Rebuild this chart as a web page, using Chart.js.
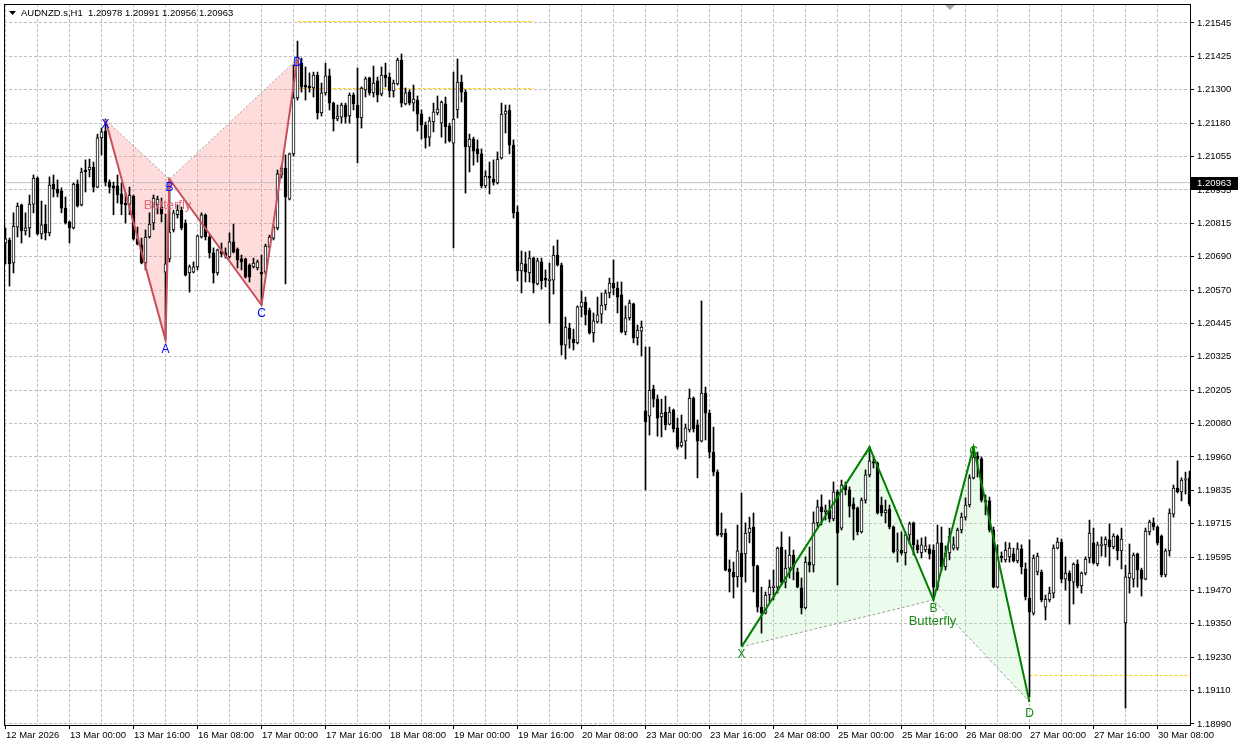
<!DOCTYPE html>
<html>
<head>
<meta charset="utf-8">
<script src="https://cdn.jsdelivr.net/npm/chart.js@4.4.1/dist/chart.umd.min.js"></script>
<style>
  html, body { margin: 0; padding: 0; background: #ffffff; }
  canvas { display: block; }
</style>
</head>
<body>
<canvas id="grafico" width="1238" height="749"></canvas>
<script>
// cabeçalho e cotação atual
var simbolo = 'AUDNZD.s,H1';
var cotacaoAtual = [1.20978, 1.20991, 1.20956, 1.20963];

// velas H1 (abertura, máxima, mínima, fechamento)
var abertura = [1.20743, 1.20754, 1.20670, 1.20801, 1.20882, 1.20787, 1.20798, 1.20885, 1.20980, 1.20776,
  1.20812, 1.20780, 1.20958, 1.20940, 1.20933, 1.20870, 1.20820, 1.20798, 1.20958, 1.20882,
  1.21009, 1.21009, 1.21020, 1.20947, 1.21126, 1.21151, 1.20965, 1.20951, 1.20951, 1.20922,
  1.20889, 1.20885, 1.20914, 1.20758, 1.20736, 1.20670, 1.20765, 1.20816, 1.20882, 1.20874,
  1.20637, 1.20685, 1.20791, 1.20846, 1.20863, 1.20816, 1.20634, 1.20637, 1.20656, 1.20765,
  1.20846, 1.20765, 1.20707, 1.20634, 1.20714, 1.20707, 1.20692, 1.20747, 1.20721, 1.20685,
  1.20685, 1.20663, 1.20656, 1.20652, 1.20637, 1.20637, 1.20728, 1.20761, 1.20798, 1.20991,
  1.21016, 1.20903, 1.21068, 1.21272, 1.21399, 1.21319, 1.21315, 1.21308, 1.21355, 1.21217,
  1.21290, 1.21352, 1.21253, 1.21195, 1.21202, 1.21246, 1.21206, 1.21282, 1.21246, 1.21199,
  1.21301, 1.21345, 1.21290, 1.21334, 1.21286, 1.21355, 1.21348, 1.21297, 1.21323, 1.21410,
  1.21250, 1.21293, 1.21253, 1.21264, 1.21213, 1.21173, 1.21129, 1.21184, 1.21217, 1.21180,
  1.21250, 1.21170, 1.21107, 1.21228, 1.21330, 1.21293, 1.21093, 1.21122, 1.21086, 1.21068,
  1.20951, 1.20987, 1.20976, 1.20962, 1.21053, 1.21213, 1.21228, 1.21100, 1.20856, 1.20641,
  1.20667, 1.20634, 1.20688, 1.20594, 1.20674, 1.20615, 1.20605, 1.20608, 1.20699, 1.20663,
  1.20371, 1.20433, 1.20393, 1.20379, 1.20510, 1.20528, 1.20499, 1.20415, 1.20455, 1.20484,
  1.20517, 1.20561, 1.20597, 1.20579, 1.20554, 1.20419, 1.20470, 1.20521, 1.20397, 1.20422,
  1.20131, 1.20112, 1.20211, 1.20174, 1.20109, 1.20127, 1.20083, 1.20134, 1.20069, 1.20003,
  1.20021, 1.20062, 1.20178, 1.20080, 1.20021, 1.20196, 1.20123, 1.19981, 1.19908, 1.19679,
  1.19686, 1.19555, 1.19544, 1.19526, 1.19613, 1.19610, 1.19686, 1.19708, 1.19566, 1.19416,
  1.19394, 1.19460, 1.19486, 1.19489, 1.19635, 1.19507, 1.19558, 1.19606, 1.19544, 1.19486,
  1.19413, 1.19580, 1.19569, 1.19723, 1.19781, 1.19763, 1.19770, 1.19737, 1.19836, 1.19704,
  1.19861, 1.19843, 1.19792, 1.19777, 1.19690, 1.19806, 1.19898, 1.19945, 1.19941, 1.19788,
  1.19759, 1.19773, 1.19708, 1.19621, 1.19624, 1.19613, 1.19679, 1.19723, 1.19643, 1.19613,
  1.19624, 1.19628, 1.19624, 1.19489, 1.19650, 1.19562, 1.19613, 1.19631, 1.19631, 1.19697,
  1.19744, 1.19788, 1.19887, 1.19967, 1.19956, 1.19806, 1.19803, 1.19697, 1.19489, 1.19602,
  1.19588, 1.19599, 1.19610, 1.19584, 1.19628, 1.19555, 1.19449, 1.19394, 1.19544, 1.19544,
  1.19416, 1.19442, 1.19467, 1.19631, 1.19653, 1.19518, 1.19540, 1.19507, 1.19573, 1.19493,
  1.19540, 1.19595, 1.19650, 1.19573, 1.19639, 1.19643, 1.19661, 1.19635, 1.19675, 1.19621,
  1.19358, 1.19522, 1.19518, 1.19610, 1.19551, 1.19518, 1.19690, 1.19723, 1.19708, 1.19675,
  1.19533, 1.19621, 1.19755, 1.19850, 1.19836, 1.19879, 1.19887];

var maxima = [1.20798, 1.20761, 1.20853, 1.20889, 1.20885, 1.20853, 1.20918, 1.20991, 1.20984, 1.20896,
  1.20882, 1.20984, 1.20991, 1.20973, 1.20944, 1.20911, 1.20823, 1.20962, 1.20973, 1.21016,
  1.21046, 1.21049, 1.21038, 1.21140, 1.21162, 1.21195, 1.20973, 1.20965, 1.20991, 1.20962,
  1.20925, 1.20947, 1.20918, 1.20801, 1.20761, 1.20791, 1.20853, 1.20918, 1.20914, 1.20907,
  1.20849, 1.20976, 1.20863, 1.20882, 1.20874, 1.20827, 1.20663, 1.20674, 1.20772, 1.20853,
  1.20849, 1.20772, 1.20725, 1.20721, 1.20743, 1.20725, 1.20780, 1.20812, 1.20725, 1.20699,
  1.20688, 1.20667, 1.20688, 1.20681, 1.20699, 1.20739, 1.20772, 1.20809, 1.21009, 1.21024,
  1.21064, 1.21071, 1.21392, 1.21479, 1.21417, 1.21385, 1.21363, 1.21366, 1.21366, 1.21326,
  1.21399, 1.21377, 1.21257, 1.21246, 1.21253, 1.21253, 1.21290, 1.21290, 1.21381, 1.21312,
  1.21348, 1.21348, 1.21388, 1.21348, 1.21385, 1.21399, 1.21363, 1.21337, 1.21417, 1.21432,
  1.21308, 1.21301, 1.21319, 1.21279, 1.21228, 1.21184, 1.21202, 1.21253, 1.21279, 1.21261,
  1.21275, 1.21180, 1.21366, 1.21414, 1.21355, 1.21301, 1.21140, 1.21129, 1.21119, 1.21086,
  1.21006, 1.21038, 1.21046, 1.21075, 1.21253, 1.21246, 1.21246, 1.21119, 1.20878, 1.20714,
  1.20710, 1.20714, 1.20692, 1.20688, 1.20688, 1.20645, 1.20670, 1.20732, 1.20754, 1.20670,
  1.20473, 1.20451, 1.20429, 1.20514, 1.20568, 1.20546, 1.20506, 1.20488, 1.20546, 1.20561,
  1.20572, 1.20615, 1.20681, 1.20601, 1.20601, 1.20514, 1.20535, 1.20524, 1.20444, 1.20459,
  1.20364, 1.20364, 1.20225, 1.20189, 1.20174, 1.20185, 1.20145, 1.20138, 1.20105, 1.20116,
  1.20083, 1.20211, 1.20182, 1.20098, 1.20532, 1.20218, 1.20134, 1.20072, 1.19916, 1.19759,
  1.19701, 1.19588, 1.19580, 1.19715, 1.19832, 1.19723, 1.19744, 1.19759, 1.19569, 1.19489,
  1.19471, 1.19515, 1.19551, 1.19635, 1.19690, 1.19624, 1.19672, 1.19624, 1.19558, 1.19522,
  1.19599, 1.19635, 1.19763, 1.19806, 1.19825, 1.19788, 1.19806, 1.19872, 1.19843, 1.19879,
  1.19872, 1.19854, 1.19814, 1.19781, 1.19814, 1.19916, 1.20000, 1.19963, 1.19945, 1.19817,
  1.19806, 1.19788, 1.19712, 1.19686, 1.19690, 1.19690, 1.19726, 1.19726, 1.19661, 1.19668,
  1.19672, 1.19643, 1.19643, 1.19715, 1.19708, 1.19639, 1.19704, 1.19672, 1.19704, 1.19759,
  1.19814, 1.19898, 1.20000, 1.19981, 1.19963, 1.19825, 1.19817, 1.19708, 1.19643, 1.19617,
  1.19653, 1.19650, 1.19631, 1.19650, 1.19643, 1.19577, 1.19661, 1.19606, 1.19613, 1.19551,
  1.19460, 1.19489, 1.19643, 1.19668, 1.19664, 1.19599, 1.19548, 1.19577, 1.19588, 1.19544,
  1.19599, 1.19733, 1.19704, 1.19653, 1.19672, 1.19672, 1.19719, 1.19683, 1.19679, 1.19704,
  1.19569, 1.19646, 1.19613, 1.19613, 1.19558, 1.19704, 1.19733, 1.19741, 1.19712, 1.19679,
  1.19628, 1.19774, 1.19861, 1.19949, 1.19887, 1.19908, 1.19912];

var minima = [1.20667, 1.20586, 1.20634, 1.20765, 1.20743, 1.20772, 1.20765, 1.20853, 1.20772, 1.20758,
  1.20754, 1.20769, 1.20911, 1.20911, 1.20853, 1.20812, 1.20743, 1.20794, 1.20874, 1.20878,
  1.20929, 1.20984, 1.20929, 1.20944, 1.21064, 1.20951, 1.20925, 1.20846, 1.20889, 1.20846,
  1.20816, 1.20846, 1.20754, 1.20736, 1.20667, 1.20645, 1.20761, 1.20791, 1.20849, 1.20820,
  1.20390, 1.20674, 1.20783, 1.20834, 1.20791, 1.20623, 1.20564, 1.20634, 1.20645, 1.20761,
  1.20754, 1.20688, 1.20597, 1.20626, 1.20692, 1.20688, 1.20688, 1.20707, 1.20652, 1.20645,
  1.20615, 1.20601, 1.20652, 1.20645, 1.20517, 1.20630, 1.20725, 1.20754, 1.20791, 1.20980,
  1.20594, 1.20900, 1.21060, 1.21264, 1.21293, 1.21264, 1.21293, 1.21275, 1.21195, 1.21206,
  1.21282, 1.21228, 1.21151, 1.21188, 1.21180, 1.21180, 1.21180, 1.21228, 1.21035, 1.21162,
  1.21275, 1.21282, 1.21275, 1.21257, 1.21279, 1.21312, 1.21275, 1.21275, 1.21319, 1.21239,
  1.21246, 1.21246, 1.21224, 1.21151, 1.21122, 1.21089, 1.21096, 1.21148, 1.21210, 1.21129,
  1.21107, 1.21111, 1.20725, 1.21199, 1.21257, 1.20925, 1.21002, 1.21027, 1.21038, 1.20944,
  1.20944, 1.20922, 1.20954, 1.20958, 1.21049, 1.21144, 1.21068, 1.20834, 1.20605, 1.20561,
  1.20601, 1.20601, 1.20561, 1.20590, 1.20575, 1.20583, 1.20451, 1.20557, 1.20659, 1.20335,
  1.20320, 1.20360, 1.20353, 1.20375, 1.20473, 1.20444, 1.20411, 1.20382, 1.20451, 1.20451,
  1.20499, 1.20543, 1.20554, 1.20488, 1.20415, 1.20408, 1.20462, 1.20379, 1.20371, 1.20331,
  1.19843, 1.20043, 1.20145, 1.20039, 1.20036, 1.20062, 1.20080, 1.20054, 1.19992, 1.19999,
  1.19956, 1.20054, 1.20054, 1.19887, 1.20018, 1.20025, 1.19959, 1.19894, 1.19675, 1.19672,
  1.19548, 1.19471, 1.19449, 1.19489, 1.19274, 1.19507, 1.19650, 1.19471, 1.19398, 1.19321,
  1.19391, 1.19435, 1.19442, 1.19467, 1.19497, 1.19486, 1.19522, 1.19515, 1.19486, 1.19391,
  1.19409, 1.19544, 1.19544, 1.19708, 1.19715, 1.19733, 1.19726, 1.19730, 1.19497, 1.19697,
  1.19825, 1.19744, 1.19661, 1.19679, 1.19686, 1.19795, 1.19890, 1.19923, 1.19755, 1.19748,
  1.19723, 1.19701, 1.19613, 1.19580, 1.19606, 1.19569, 1.19646, 1.19606, 1.19613, 1.19595,
  1.19617, 1.19591, 1.19442, 1.19478, 1.19551, 1.19551, 1.19588, 1.19624, 1.19624, 1.19686,
  1.19733, 1.19781, 1.19883, 1.19890, 1.19799, 1.19752, 1.19690, 1.19486, 1.19486, 1.19580,
  1.19580, 1.19580, 1.19580, 1.19577, 1.19537, 1.19442, 1.19088, 1.19387, 1.19533, 1.19435,
  1.19369, 1.19435, 1.19449, 1.19628, 1.19504, 1.19478, 1.19354, 1.19427, 1.19486, 1.19467,
  1.19533, 1.19577, 1.19573, 1.19566, 1.19602, 1.19599, 1.19566, 1.19628, 1.19588, 1.19555,
  1.19048, 1.19467, 1.19489, 1.19489, 1.19456, 1.19515, 1.19679, 1.19697, 1.19643, 1.19526,
  1.19526, 1.19602, 1.19744, 1.19832, 1.19803, 1.19828, 1.19785];

var fechamento = [1.20758, 1.20667, 1.20805, 1.20878, 1.20787, 1.20798, 1.20885, 1.20980, 1.20776, 1.20809,
  1.20780, 1.20954, 1.20940, 1.20925, 1.20870, 1.20816, 1.20798, 1.20958, 1.20878, 1.21002,
  1.21002, 1.21020, 1.20947, 1.21126, 1.21148, 1.20965, 1.20947, 1.20944, 1.20918, 1.20885,
  1.20882, 1.20918, 1.20758, 1.20739, 1.20670, 1.20765, 1.20812, 1.20907, 1.20903, 1.20849,
  1.20667, 1.20783, 1.20853, 1.20863, 1.20798, 1.20626, 1.20656, 1.20656, 1.20769, 1.20846,
  1.20765, 1.20707, 1.20634, 1.20718, 1.20703, 1.20696, 1.20747, 1.20710, 1.20681, 1.20674,
  1.20619, 1.20619, 1.20670, 1.20674, 1.20630, 1.20732, 1.20765, 1.20801, 1.20995, 1.21016,
  1.20911, 1.21068, 1.21272, 1.21421, 1.21311, 1.21311, 1.21308, 1.21355, 1.21217, 1.21290,
  1.21352, 1.21253, 1.21195, 1.21206, 1.21246, 1.21202, 1.21282, 1.21250, 1.21199, 1.21308,
  1.21341, 1.21290, 1.21326, 1.21282, 1.21355, 1.21345, 1.21297, 1.21326, 1.21410, 1.21253,
  1.21290, 1.21253, 1.21268, 1.21213, 1.21173, 1.21126, 1.21188, 1.21221, 1.21231, 1.21257,
  1.21166, 1.21115, 1.21195, 1.21330, 1.21293, 1.21093, 1.21122, 1.21078, 1.21068, 1.20951,
  1.20987, 1.20980, 1.20965, 1.21049, 1.21213, 1.21224, 1.21100, 1.20853, 1.20641, 1.20670,
  1.20637, 1.20688, 1.20597, 1.20678, 1.20605, 1.20608, 1.20612, 1.20699, 1.20663, 1.20371,
  1.20437, 1.20393, 1.20379, 1.20510, 1.20528, 1.20481, 1.20415, 1.20459, 1.20481, 1.20517,
  1.20561, 1.20597, 1.20579, 1.20546, 1.20419, 1.20470, 1.20524, 1.20397, 1.20426, 1.20437,
  1.20091, 1.20207, 1.20174, 1.20105, 1.20123, 1.20080, 1.20127, 1.20065, 1.19999, 1.20018,
  1.20069, 1.20178, 1.20065, 1.20021, 1.20196, 1.20123, 1.19981, 1.19908, 1.19679, 1.19686,
  1.19551, 1.19544, 1.19526, 1.19621, 1.19526, 1.19686, 1.19704, 1.19566, 1.19416, 1.19394,
  1.19460, 1.19489, 1.19493, 1.19631, 1.19507, 1.19558, 1.19606, 1.19562, 1.19489, 1.19413,
  1.19580, 1.19569, 1.19723, 1.19781, 1.19763, 1.19770, 1.19737, 1.19836, 1.19686, 1.19861,
  1.19843, 1.19784, 1.19773, 1.19690, 1.19806, 1.19898, 1.19949, 1.19941, 1.19759, 1.19759,
  1.19770, 1.19708, 1.19617, 1.19624, 1.19613, 1.19679, 1.19719, 1.19643, 1.19624, 1.19643,
  1.19639, 1.19610, 1.19489, 1.19650, 1.19562, 1.19613, 1.19675, 1.19643, 1.19697, 1.19744,
  1.19788, 1.19887, 1.19963, 1.19956, 1.19806, 1.19799, 1.19697, 1.19489, 1.19599, 1.19595,
  1.19624, 1.19631, 1.19584, 1.19628, 1.19562, 1.19453, 1.19398, 1.19595, 1.19602, 1.19442,
  1.19445, 1.19467, 1.19631, 1.19653, 1.19518, 1.19540, 1.19511, 1.19573, 1.19493, 1.19540,
  1.19591, 1.19686, 1.19577, 1.19643, 1.19646, 1.19664, 1.19635, 1.19675, 1.19621, 1.19664,
  1.19526, 1.19540, 1.19606, 1.19551, 1.19518, 1.19693, 1.19726, 1.19708, 1.19650, 1.19533,
  1.19621, 1.19759, 1.19850, 1.19836, 1.19879, 1.19883, 1.19792];

// rótulos dos eixos
var rotulosTempo = ['12 Mar 2026', '13 Mar 00:00', '13 Mar 16:00', '16 Mar 08:00', '17 Mar 00:00',
  '17 Mar 16:00', '18 Mar 08:00', '19 Mar 00:00', '19 Mar 16:00', '20 Mar 08:00', '23 Mar 00:00',
  '23 Mar 16:00', '24 Mar 08:00', '25 Mar 00:00', '25 Mar 16:00', '26 Mar 08:00', '27 Mar 00:00',
  '27 Mar 16:00', '30 Mar 08:00'];
var rotulosPreco = ['1.21545', '1.21425', '1.21300', '1.21180', '1.21055', '1.20935', '1.20815',
  '1.20690', '1.20570', '1.20445', '1.20325', '1.20205', '1.20080', '1.19960', '1.19835', '1.19715',
  '1.19595', '1.19470', '1.19350', '1.19230', '1.19110', '1.18990'];

// padrões harmônicos (barra e preço de X, A, B, C, D)
var letrasPadrao = ['X', 'A', 'B', 'C', 'D'];
var nomePadrao = 'Butterfly';
var vermelhoBarras = [25, 40, 41, 64, 73];
var vermelhoPrecos = [1.21191, 1.20390, 1.20976, 1.20517, 1.21414];
var verdeBarras = [184, 216, 232, 242, 256];
var verdePrecos = [1.19271, 1.19999, 1.19442, 1.19999, 1.19070];

// níveis tracejados amarelos [barra inicial, barra final, preço]
var nivelAmarelo1 = [73, 132, 1.21306];
var nivelAmarelo2 = [73, 132, 1.21550];
var nivelAmarelo3 = [256, 300, 1.19167];

// escala de preço da janela
var precoTopo = 1.216142;
var precoBase = 1.189862;
var passoGrade = 0.0012167;

var fonte = '"Liberation Sans", Arial, sans-serif';
var tamanhoTexto = 9.5;

var indices = abertura.map(function (v, i) { return i; });
var pavios = indices.map(function (i) { return { x: i, y: [minima[i], maxima[i]] }; });
var corpos = indices.map(function (i) { return { x: i, y: [abertura[i], fechamento[i]] }; });
var coresCorpo = indices.map(function (i) { return fechamento[i] > abertura[i] ? '#ffffff' : '#000000'; });

function pontos(barras, precos, lista) {
  return lista.map(function (k) { return { x: barras[k], y: precos[k] }; });
}
function nivel(n) {
  return [{ x: n[0], y: n[2] }, { x: n[1], y: n[2] }];
}

var marcasTempo = [];
for (var t = 0; t <= 288; t += 8) marcasTempo.push(t);
var marcasPreco = rotulosPreco.map(function (r, k) { return 1.21545 - k * passoGrade; });

function linha(dados, cor, largura, traco, ordem) {
  return {
    type: 'line', data: dados, borderColor: cor, borderWidth: largura, borderDash: traco || [],
    pointRadius: 0, fill: false, tension: 0, order: ordem
  };
}
function area(dados, cor) {
  return {
    type: 'line', data: dados, fill: 'shape', backgroundColor: cor, borderColor: 'rgba(0,0,0,0)',
    borderWidth: 0, pointRadius: 0, tension: 0, order: 30
  };
}

// sem folga extra para os rótulos das pontas (a área do gráfico fica fixa)
function semFolga(e) {
  e.paddingTop = 0; e.paddingBottom = 0; e.paddingLeft = 0; e.paddingRight = 0;
}

// textos, moldura e etiqueta de preço
var extras = {
  id: 'extras',
  afterDatasetsDraw: function (chart) {
    var c = chart.ctx, ex = chart.scales.x, ey = chart.scales.y;
    var a = chart.chartArea;
    c.save();
    c.beginPath();
    c.rect(a.left, a.top, a.right - a.left, a.bottom - a.top);
    c.clip();
    c.textAlign = 'center';
    c.textBaseline = 'middle';

    function letras(barras, precos, desloc, cor) {
      c.fillStyle = cor;
      c.font = '12px ' + fonte;
      for (var i = 0; i < letrasPadrao.length; i++) {
        c.fillText(letrasPadrao[i], ex.getPixelForValue(barras[i]), ey.getPixelForValue(precos[i]) + desloc[i]);
      }
    }
    letras(vermelhoBarras, vermelhoPrecos, [5, 10, 9, 9, 4], '#0000ff');
    letras(verdeBarras, verdePrecos, [8, 5, 9, 5, 12], '#0a8a0a');

    c.font = '13px ' + fonte;
    c.fillStyle = '#e06878';
    c.fillText(nomePadrao, ex.getPixelForValue(vermelhoBarras[2]) - 2, ey.getPixelForValue(vermelhoPrecos[2]) + 26);
    c.fillStyle = '#1a8a1a';
    c.fillText(nomePadrao, ex.getPixelForValue(verdeBarras[2]) - 1, ey.getPixelForValue(verdePrecos[2]) + 21);
    c.restore();
  },
  afterDraw: function (chart) {
    var c = chart.ctx, a = chart.chartArea, ey = chart.scales.y;
    c.save();
    // moldura superior e esquerda
    c.strokeStyle = '#000000';
    c.lineWidth = 1;
    c.beginPath();
    c.moveTo(a.left, a.top + 0.5); c.lineTo(a.right + 1, a.top + 0.5);
    c.moveTo(a.left + 0.5, a.top); c.lineTo(a.left + 0.5, a.bottom);
    c.stroke();

    // marcador de deslocamento
    c.fillStyle = '#a8a8a8';
    c.beginPath(); c.moveTo(945, 5); c.lineTo(955, 5); c.lineTo(950, 10); c.closePath(); c.fill();

    // cabeçalho
    c.fillStyle = '#000000';
    c.beginPath(); c.moveTo(9, 11); c.lineTo(16, 11); c.lineTo(12.5, 15); c.closePath(); c.fill();
    c.font = tamanhoTexto + 'px ' + fonte;
    c.textAlign = 'left';
    c.textBaseline = 'middle';
    c.fillText(simbolo + '  ' + cotacaoAtual.map(function (v) { return v.toFixed(5); }).join(' '), 21, 13.5);

    // etiqueta do preço atual
    var py = ey.getPixelForValue(cotacaoAtual[3]);
    c.fillStyle = '#000000';
    c.fillRect(a.right + 1, Math.round(py) - 6, 47, 13);
    c.fillStyle = '#ffffff';
    c.fillText(cotacaoAtual[3].toFixed(5), 1197, Math.round(py) + 0.5);
    c.restore();
  }
};

new Chart(document.getElementById('grafico').getContext('2d'), {
  type: 'bar',
  data: {
    datasets: [
      area(pontos(vermelhoBarras, vermelhoPrecos, [0, 1, 2]), 'rgba(255,140,140,0.3)'),
      area(pontos(vermelhoBarras, vermelhoPrecos, [2, 3, 4]), 'rgba(255,140,140,0.3)'),
      area(pontos(verdeBarras, verdePrecos, [0, 1, 2]), 'rgba(170,240,170,0.22)'),
      area(pontos(verdeBarras, verdePrecos, [2, 3, 4]), 'rgba(170,240,170,0.22)'),
      linha([{ x: -2, y: cotacaoAtual[3] }, { x: 300, y: cotacaoAtual[3] }], '#c0c0c0', 1, null, 25),
      linha(nivel(nivelAmarelo1), '#ffcc00', 1, [3, 2], 24),
      linha(nivel(nivelAmarelo2), '#ffcc00', 1, [3, 2], 24),
      linha(nivel(nivelAmarelo3), '#ffcc00', 1, [3, 2], 24),
      {
        type: 'bar', data: pavios, backgroundColor: '#000000', barThickness: 1,
        grouped: false, borderWidth: 0, order: 20
      },
      {
        type: 'bar', data: corpos, backgroundColor: coresCorpo, borderColor: '#000000', borderWidth: 1,
        borderSkipped: false, barThickness: 3, grouped: false, minBarLength: 1, order: 19
      },
      linha(pontos(vermelhoBarras, vermelhoPrecos, [0, 2, 4]), '#a0a0a0', 1, [2, 2], 10),
      linha(pontos(verdeBarras, verdePrecos, [0, 2, 4]), '#a0a0a0', 1, [3, 2], 10),
      linha(pontos(vermelhoBarras, vermelhoPrecos, [0, 1, 2, 3, 4]), '#c8505a', 2, null, 5),
      linha(pontos(verdeBarras, verdePrecos, [0, 1, 2, 3, 4]), '#008000', 2, null, 5)
    ]
  },
  options: {
    responsive: false,
    animation: false,
    devicePixelRatio: 1,
    events: [],
    layout: { padding: { left: 4, top: 4, right: 0, bottom: 0 } },
    plugins: { legend: { display: false }, tooltip: { enabled: false } },
    scales: {
      x: {
        type: 'linear', position: 'bottom', bounds: 'data', offset: false,
        min: -0.375, max: 296.125,
        afterFit: function (e) { e.height = 24; semFolga(e); },
        afterBuildTicks: function (e) { e.ticks = marcasTempo.map(function (v) { return { value: v }; }); },
        grid: {
          offset: false, color: '#c0c0c0', lineWidth: 1, drawTicks: true, tickLength: 4, tickWidth: 1,
          tickColor: function (ctx) { return ctx.tick && ctx.tick.value % 16 === 0 ? '#000000' : 'rgba(0,0,0,0)'; }
        },
        border: { display: true, color: '#000000', width: 1, dash: [3, 2] },
        ticks: {
          autoSkip: false, maxRotation: 0, minRotation: 0, align: 'start', labelOffset: 0.5, padding: 1,
          color: '#000000', font: { family: fonte, size: tamanhoTexto },
          callback: function (v) { return v % 16 === 0 ? rotulosTempo[v / 16] : ''; }
        }
      },
      y: {
        type: 'linear', position: 'right', bounds: 'data',
        min: precoBase, max: precoTopo,
        afterFit: function (e) { e.width = 48; semFolga(e); },
        afterBuildTicks: function (e) { e.ticks = marcasPreco.map(function (v) { return { value: v }; }); },
        grid: { color: '#c0c0c0', lineWidth: 1, drawTicks: true, tickLength: 4, tickColor: '#000000' },
        border: { display: true, color: '#000000', width: 1, dash: [3, 2] },
        ticks: {
          autoSkip: false, padding: 3, color: '#000000', font: { family: fonte, size: tamanhoTexto },
          callback: function (v, i) { return rotulosPreco[i]; }
        }
      }
    }
  },
  plugins: [extras]
});
</script>
</body>
</html>
